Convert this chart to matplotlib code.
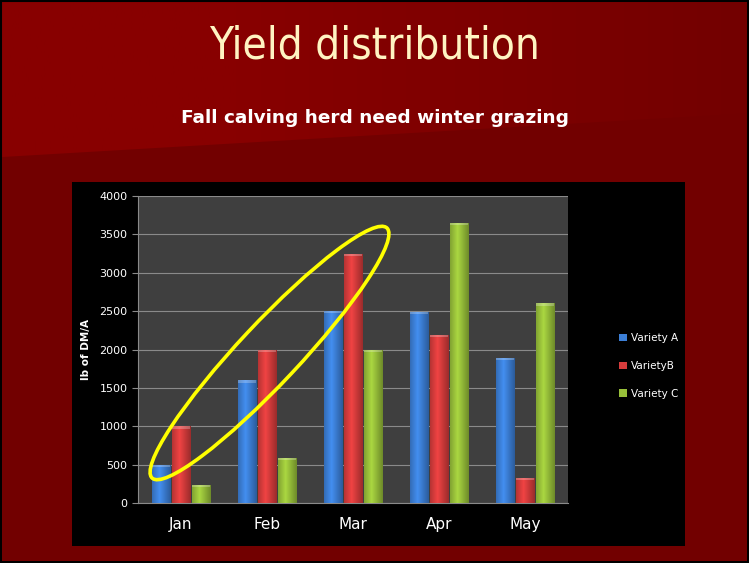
import numpy as np
import matplotlib
matplotlib.use("Agg")
import matplotlib.pyplot as plt
from matplotlib.patches import Ellipse, Patch, Rectangle, Polygon
from matplotlib.colors import to_rgb

# chart data
months = ["Jan", "Feb", "Mar", "Apr", "May"]
variety_a = [500, 1600, 2500, 2490, 1890]
variety_b = [1000, 2000, 3250, 2190, 330]
variety_c = [240, 590, 2000, 3650, 2600]
series_names = ["Variety A", "VarietyB", "Variety C"]
series_colors = ["#3c7fd6", "#d63c3c", "#98c03a"]

W, H = 749, 563
fig = plt.figure(figsize=(W / 100, H / 100), dpi=100)
fig.patch.set_facecolor("black")

# slide background: dark red, brighter wedge at the top with a left-to-right fade
bg = fig.add_axes([0.003, 0.004, 0.994, 0.992])
bg.set_xlim(0, W)
bg.set_ylim(H, 0)
bg.axis("off")
bg.add_patch(Rectangle((0, 0), W, H, facecolor="#720000", edgecolor="none", zorder=0))
grad = np.concatenate([np.zeros(80), np.linspace(0, 1, 176)]).reshape(1, -1)
left_c = np.array(to_rgb("#880000"))
right_c = np.array(to_rgb("#730000"))
img = left_c[None, None, :] * (1 - grad[..., None]) + right_c[None, None, :] * grad[..., None]
wedge = Polygon([(0, 0), (W, 0), (W, 112), (0, 156)], closed=True,
                facecolor="none", edgecolor="none")
bg.add_patch(wedge)
top = bg.imshow(img, extent=(0, W, H, 0), aspect="auto", zorder=1)
top.set_clip_path(wedge)
# black chart box
bg.add_patch(Rectangle((70, 181), 687 - 70, 548 - 181,
                       facecolor="black", edgecolor="none", zorder=2))
bg.set_xlim(0, W)
bg.set_ylim(H, 0)

fig.text(0.5, 1 - 46 / H, "Yield distribution", ha="center", va="center",
         fontsize=31.5, color="#fff4c2", fontstretch="condensed", fontweight="light")
fig.text(0.5, 1 - 118 / H, "Fall calving herd need winter grazing", ha="center", va="center",
         fontsize=13.3, color="white", fontweight="bold")

ax = fig.add_axes([138 / W, 1 - 503 / H, (568 - 138) / W, (503 - 196) / H])
ax.set_facecolor("#3f3f3f")
ax.set_ylim(0, 4000)
ax.set_yticks(range(0, 4001, 500))
ax.grid(axis="y", color="#8a8a8a", linewidth=0.8)
ax.set_axisbelow(True)
for side in ["top", "right"]:
    ax.spines[side].set_visible(False)
for side in ["left", "bottom"]:
    ax.spines[side].set_color("#8a8a8a")
ax.tick_params(axis="y", colors="#8a8a8a", labelcolor="white", labelsize=8, length=4)
ax.tick_params(axis="x", length=0, labelcolor="white", labelsize=11, pad=10)
ax.set_ylabel("lb of DM/A", color="white", fontsize=7.5, fontweight="bold", labelpad=6)

x = np.arange(len(months))
width = 0.213
offsets = [-0.233, 0, 0.233]
all_series = [variety_a, variety_b, variety_c]

shade = np.concatenate([np.linspace(0.85, 1.12, 40), np.linspace(1.12, 0.72, 60)])
for vals, off, col in zip(all_series, offsets, series_colors):
    bars = ax.bar(x + off, vals, width, color=col, zorder=2)
    base = np.array(to_rgb(col))
    cimg = np.clip(base[None, None, :] * shade[None, :, None], 0, 1)
    for b in bars:
        x0, y0 = b.get_x(), b.get_y()
        im = ax.imshow(cimg, extent=(x0, x0 + b.get_width(), y0, y0 + b.get_height()),
                       aspect="auto", zorder=3)
        im.set_clip_path(b)
        # light top cap
        ax.add_patch(Rectangle((x0, b.get_height() - 30), b.get_width(), 30,
                               facecolor="white", alpha=0.25, edgecolor="none", zorder=4))
ax.set_xticks(x)
ax.set_xticklabels(months)
ax.set_xlim(-0.5, len(months) - 0.5)
ax.set_ylim(0, 4000)

handles = [Patch(facecolor=c, edgecolor="none") for c in series_colors]
fig.legend(handles, series_names, loc="center left", bbox_to_anchor=(610 / W, 1 - 366 / H),
           frameon=False, fontsize=7.5, labelcolor="white", handlelength=0.7, handleheight=0.7,
           handletextpad=0.4, labelspacing=1.7)

# yellow highlight ellipse
fig.add_artist(Ellipse((2.695, 2.10), 3.43, 0.60, angle=46.8, fill=False, edgecolor="#ffff00",
                       linewidth=2.6, transform=fig.dpi_scale_trans, zorder=10))

fig.savefig("out.png", dpi=100, facecolor=fig.get_facecolor())
